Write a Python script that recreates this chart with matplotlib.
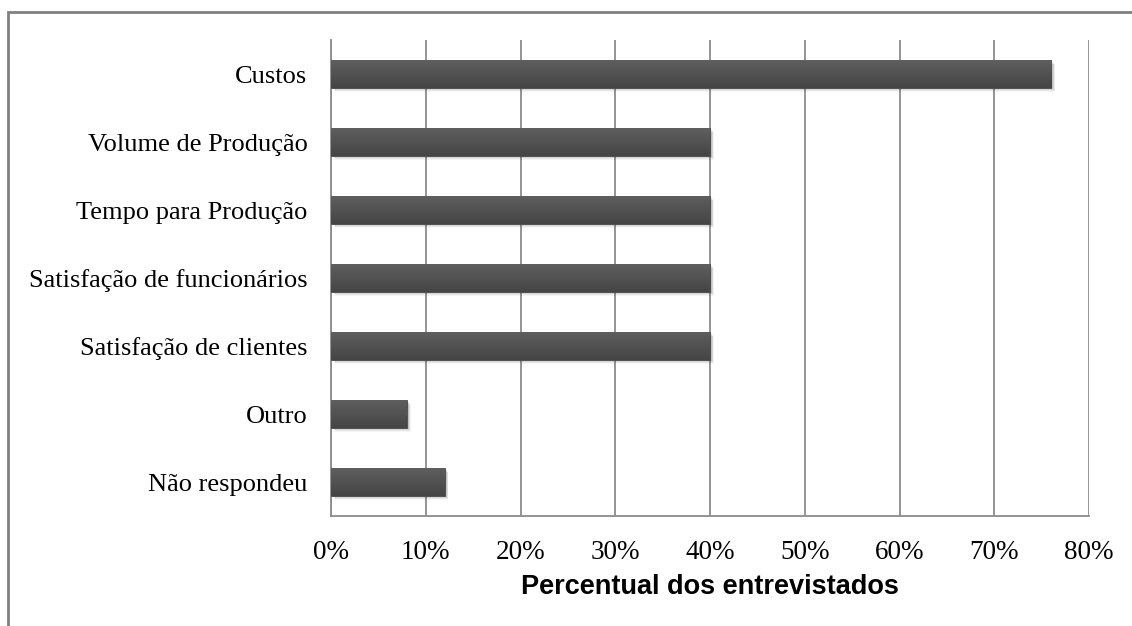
import matplotlib.pyplot as plt
import numpy as np
from matplotlib.patches import Rectangle

categories = [
    "Custos",
    "Volume de Produção",
    "Tempo para Produção",
    "Satisfação de funcionários",
    "Satisfação de clientes",
    "Outro",
    "Não respondeu",
]
values = [76, 40, 40, 40, 40, 8, 12]
ticks = [0, 10, 20, 30, 40, 50, 60, 70, 80]
tick_labels = [f"{t}%" for t in ticks]

W, H = 1132, 626
fig = plt.figure(figsize=(W / 100, H / 100), dpi=100)
ax = fig.add_axes([331 / W, 1 - 516 / H, (1089 - 331) / W, (516 - 40) / H])

y = np.arange(len(categories))
bar_h = 0.4

# soft drop shadow under each bar
for k in range(6):
    off = 0.015 + k * 0.009
    ax.barh(y + off, values, height=bar_h, left=0.2 + k * 0.04,
            color="black", alpha=0.045, linewidth=0, zorder=2)

bars = ax.barh(y, values, height=bar_h, color="#545454",
               edgecolor="#4a4a4a", linewidth=0.6, zorder=3)

# vertical gradient on the bars, lighter at the top
grad = np.linspace(0.37, 0.27, 64).reshape(-1, 1)
for b in bars:
    x0, y0 = b.get_x(), b.get_y()
    im = ax.imshow(np.dstack([grad] * 3), extent=[x0, x0 + b.get_width(), y0 + b.get_height(), y0],
                   aspect="auto", zorder=4, interpolation="bilinear")
    im.set_clip_path(b)

ax.set_xlim(0, 80)
ax.set_ylim(len(categories) - 0.5, -0.5)
ax.set_xticks(ticks)
ax.set_xticklabels(tick_labels, family="Liberation Serif", fontsize=19.5)
ax.set_yticks(y)
ax.set_yticklabels(categories, family="Liberation Serif", fontsize=19)
ax.tick_params(length=0, pad=17, axis="x")
ax.tick_params(length=0, pad=17, axis="y")
ax.xaxis.grid(True, color="#8c8c8c", linewidth=1.3, zorder=1)
ax.set_axisbelow(True)

for side in ["top", "right"]:
    ax.spines[side].set_visible(False)
ax.spines["left"].set_color("#8c8c8c")
ax.spines["bottom"].set_color("#8c8c8c")
ax.spines["left"].set_linewidth(1.3)
ax.spines["bottom"].set_linewidth(1.3)

ax.set_xlabel("Percentual dos entrevistados", family="Liberation Sans",
              fontweight="bold", fontsize=19.5, labelpad=7)

# outer chart frame, running off the right and bottom edges
fig.patches.append(Rectangle((8 / W, -0.1), 1.2, 1 - 12 / H + 0.1,
                             transform=fig.transFigure, fill=False,
                             edgecolor="#808080", linewidth=2))

fig.savefig("out.png", dpi=100, facecolor="white")
